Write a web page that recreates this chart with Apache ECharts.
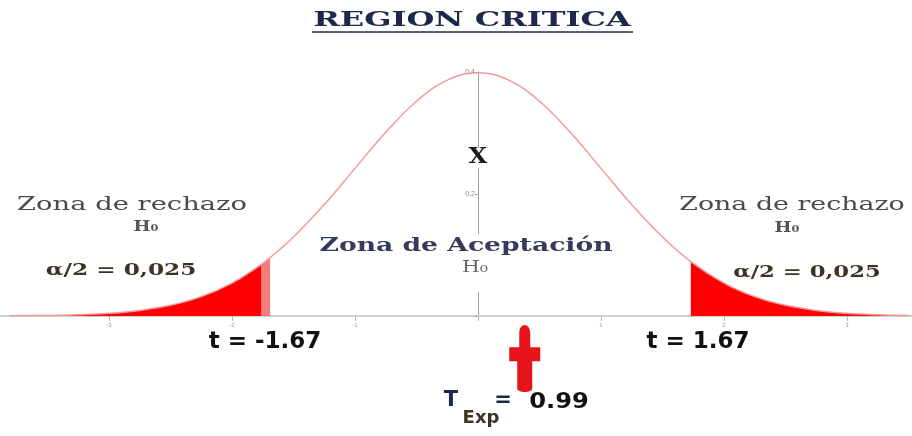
<!DOCTYPE html>
<html>
<head>
<meta charset="utf-8">
<script src="https://cdn.jsdelivr.net/npm/echarts@6/dist/echarts.min.js"></script>
<style>
html, body { margin: 0; padding: 0; background: #fff; }
#container { width: 912px; height: 436px; }
</style>
</head>
<body>
<div id="container"></div>
<script>
// values (density of t, x in t units)
var curveX = [-3.8, -3.5, -3.25, -3.0, -2.75, -2.5, -2.25, -2.0, -1.76, -1.69, -1.5, -1.25, -1.0, -0.75, -0.5, -0.25,
    0, 0.25, 0.5, 0.75, 1.0, 1.25, 1.5, 1.73, 2.0, 2.25, 2.5, 2.75, 3.0, 3.25, 3.5];
var curveY = [0.0003, 0.0009, 0.0020, 0.0044, 0.0091, 0.0175, 0.0317, 0.0540, 0.0848, 0.0957, 0.1295, 0.1826, 0.2420, 0.3011, 0.3521, 0.3867,
    0.3989, 0.3867, 0.3521, 0.3011, 0.2420, 0.1826, 0.1295, 0.0893, 0.0540, 0.0317, 0.0175, 0.0091, 0.0044, 0.0020, 0.0009];

// where the shading stops / starts
var leftTailEnd = -1.76;
var leftStripEnd = -1.69;
var rightTailStart = 1.73;

var arrowPoint = [0.38, -0.0697];

function pick(fn) {
    var res = [];
    for (var i = 0; i < curveX.length; i++) {
        if (fn(curveX[i])) res.push([curveX[i], curveY[i]]);
    }
    return res;
}
var curveData = pick(function (x) { return true; });
var leftTail = pick(function (x) { return x <= leftTailEnd; });
var leftStrip = pick(function (x) { return x >= leftTailEnd && x <= leftStripEnd; });
var rightTail = pick(function (x) { return x >= rightTailStart; });

var dom = document.getElementById('container');
var myChart = echarts.init(dom);

var serifFont = '"DejaVu Serif", "Liberation Serif", serif';
var sansFont = '"DejaVu Sans", "Liberation Sans", sans-serif';

function txt(text, x, y, font, color, scaleX) {
    return {
        type: 'text',
        x: x, y: y,
        scaleX: scaleX || 1,
        z: 100,
        style: {
            text: text,
            font: font,
            fill: color,
            align: 'center',
            verticalAlign: 'middle'
        }
    };
}

var unit = 123;      // px per t unit
var zeroX = 478;     // where t = 0 sits
var gridLeft = zeroX - 4 * unit;

var option = {
    backgroundColor: '#fff',
    animation: false,
    grid: {
        left: gridLeft,
        right: 912 - (zeroX + 4 * unit),
        top: 72,
        bottom: 120,
        outerBoundsMode: 'none',
        containLabel: false
    },
    xAxis: {
        type: 'value',
        min: -4,
        max: 4,
        interval: 1,
        axisLine: { lineStyle: { color: '#cfcfcf', width: 2 } },
        axisTick: { show: true, length: 5, lineStyle: { color: '#b8b8b8' } },
        axisLabel: {
            fontSize: 6, color: '#999', margin: 6,
            formatter: function (v) { return v === 0 ? '' : String(v); }
        },
        splitLine: { show: false }
    },
    yAxis: {
        type: 'value',
        min: 0,
        max: 0.4,
        interval: 0.2,
        position: 'left',
        offset: -(zeroX - gridLeft),
        axisLine: { show: true, onZero: false, lineStyle: { color: '#a0a0a0', width: 1 } },
        axisTick: { show: true, length: 3, lineStyle: { color: '#aaa' } },
        axisLabel: {
            show: true,
            fontSize: 7, color: '#888', margin: 3,
            formatter: function (v) { return v === 0 ? '' : v.toFixed(1); }
        },
        splitLine: { show: false }
    },
    series: [
        {
            name: 'tail-left',
            type: 'line',
            data: leftTail,
            smooth: true,
            symbol: 'none',
            lineStyle: { width: 0 },
            areaStyle: { color: '#ff0000', opacity: 1 },
            z: 2
        },
        {
            name: 'tail-left-edge',
            type: 'line',
            data: leftStrip,
            smooth: true,
            symbol: 'none',
            lineStyle: { width: 0 },
            areaStyle: { color: '#f87a7a', opacity: 1 },
            z: 2
        },
        {
            name: 'tail-right',
            type: 'line',
            data: rightTail,
            smooth: true,
            symbol: 'none',
            lineStyle: { width: 0 },
            areaStyle: { color: '#ff0000', opacity: 1 },
            z: 2
        },
        {
            name: 'curve',
            type: 'line',
            data: curveData,
            smooth: 0.4,
            symbol: 'none',
            lineStyle: { color: '#f29a9a', width: 1.5 },
            z: 3
        },
        {
            name: 'T exp',
            type: 'scatter',
            data: [arrowPoint],
            clip: false,
            symbol: 'path://M10,9 C10,-2 21,-2 21,9 L21,23 L31,23 L31,37 L23,37 L23,64 C23,69 8,69 8,64 L8,37 L0,37 L0,23 L10,23 Z',
            symbolSize: [31, 67],
            itemStyle: { color: '#e8141b', opacity: 1 },
            z: 5
        }
    ],
    graphic: [
        // title
        txt('REGION CRITICA', 472, 21, 'bold 20px ' + serifFont, '#1e2848', 1.6),
        { type: 'rect', z: 100, shape: { x: 312, y: 31, width: 321, height: 2 }, style: { fill: '#5a6078' } },

        // hide the y axis behind the labels
        { type: 'rect', z: 99, shape: { x: 472, y: 148, width: 12, height: 20 }, style: { fill: '#fff' } },
        { type: 'rect', z: 99, shape: { x: 472, y: 234, width: 12, height: 58 }, style: { fill: '#fff' } },
        txt('X', 478, 157, 'bold 22px ' + serifFont, '#1a1a1a', 1.1),

        txt('Zona de rechazo', 132, 205, '18px ' + serifFont, '#4a4a4a', 1.52),
        txt('H₀', 146, 227, 'bold 15px ' + serifFont, '#555', 1.2),
        txt('α/2 = 0,025', 121, 271, 'bold 16px ' + serifFont, '#3a3328', 1.45),

        txt('Zona de rechazo', 792, 205, '18px ' + serifFont, '#4a4a4a', 1.49),
        txt('H₀', 787, 228, 'bold 15px ' + serifFont, '#555', 1.2),
        txt('α/2 = 0,025', 807, 273, 'bold 16px ' + serifFont, '#3a3328', 1.42),

        txt('Zona de Aceptación', 466, 246, 'bold 19px ' + serifFont, '#353b5a', 1.4),
        txt('H₀', 475, 268, '17px ' + serifFont, '#666', 1.2),

        txt('t = -1.67', 265, 342, 'bold 23px ' + sansFont, '#111'),
        txt('t = 1.67', 698, 342, 'bold 23px ' + sansFont, '#111'),

        txt('T', 451, 401, 'bold 21px ' + sansFont, '#1c2450'),
        txt('Exp', 481, 418, 'bold 18px ' + sansFont, '#3a3520'),
        txt('=', 503, 401, 'bold 21px ' + sansFont, '#1c2450'),
        txt('0.99', 559, 402, 'bold 22px ' + sansFont, '#111', 1.1)
    ]
};

myChart.setOption(option);
</script>
</body>
</html>
